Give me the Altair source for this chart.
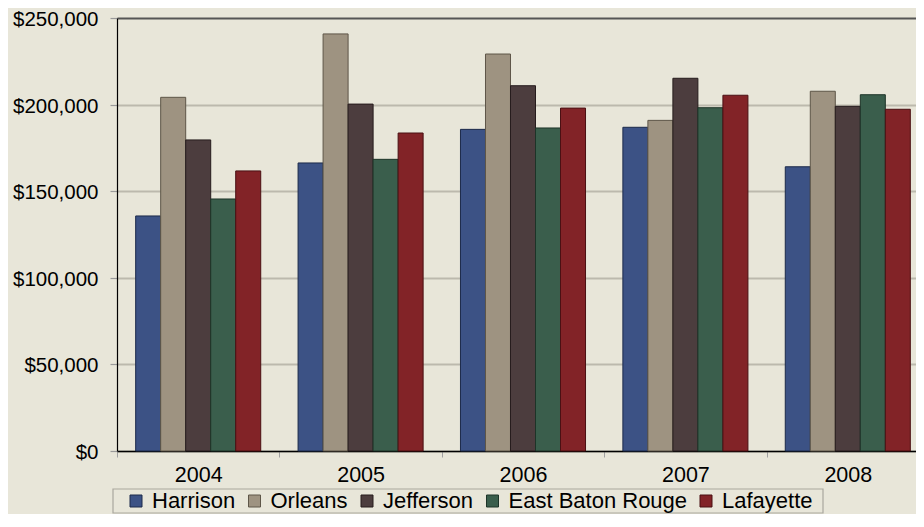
import altair as alt
import pandas as pd

years = ["2004", "2005", "2006", "2007", "2008"]
counties = ["Harrison", "Orleans", "Jefferson", "East Baton Rouge", "Lafayette"]
harrison = [135700, 166300, 185700, 186900, 164100]
orleans = [204200, 240800, 229200, 190900, 207700]
jefferson = [179600, 200300, 210900, 215200, 199000]
east_baton_rouge = [145500, 168400, 186500, 198200, 205700]
lafayette = [161700, 183600, 198000, 205400, 197300]

fills = ["#3c5285", "#9e9381", "#4c3d3e", "#3a5e4c", "#822327"]
strokes = ["#1c2a4a", "#5e5648", "#261c1d", "#1d3428", "#4a1013"]

series = [harrison, orleans, jefferson, east_baton_rouge, lafayette]
rows = []
for c, vals in zip(counties, series):
    for y, v in zip(years, vals):
        rows.append({"Year": y, "County": c, "Value": v})
df = pd.DataFrame(rows)

FONT = "Liberation Sans"
STEP = 812 / 5

bars = alt.Chart(df).mark_bar(strokeWidth=1).encode(
    x=alt.X("Year:N", sort=years,
            scale=alt.Scale(paddingInner=0.23, paddingOuter=0.115, range=[0, 812]),
            axis=alt.Axis(title=None, labelAngle=0,
                          tickOffset=-STEP / 2, labelOffset=STEP / 2,
                          domainColor="#000000", domainWidth=1.5,
                          tickColor="#a0a0a0", tickSize=6, tickWidth=1,
                          labelFontSize=21.5, labelPadding=7, grid=False)),
    xOffset=alt.XOffset("County:N", sort=counties, scale=alt.Scale(paddingInner=0, paddingOuter=0)),
    y=alt.Y("Value:Q",
            scale=alt.Scale(domain=[0, 250000], nice=False),
            axis=alt.Axis(title=None, values=[0, 50000, 100000, 150000, 200000, 250000],
                          format="$,.0f", domainColor="#000000", domainWidth=1.2,
                          tickColor="#9a9a9a", tickSize=7, tickWidth=1.2,
                          labelFontSize=20.5, labelPadding=12, labelOffset=1.5,
                          grid=True,
                          gridColor=alt.condition("datum.value === 250000",
                                                  alt.value("#555555"), alt.value("#bcb9ad")),
                          gridWidth=1.8)),
    color=alt.Color("County:N", sort=counties,
                    scale=alt.Scale(domain=counties, range=fills),
                    legend=alt.Legend(title=None, orient="none", direction="horizontal",
                                      legendX=8, legendY=472, symbolType="square",
                                      symbolSize=144, symbolStrokeColor="#2a2a2a",
                                      symbolStrokeWidth=1, labelFontSize=22,
                                      labelOffset=5, columnPadding=7.5,
                                      labelLimit=400, padding=0)),
    stroke=alt.Stroke("County:N", sort=counties,
                      scale=alt.Scale(domain=counties, range=strokes), legend=None),
)

box = alt.Chart(alt.Data(values=[{"k": 1}])).mark_rect(
    filled=False, stroke="#a9a79e", strokeWidth=1.2
).encode(
    x=alt.value(-4), x2=alt.value(706), y=alt.value(471), y2=alt.value(495)
)

chart = alt.layer(box, bars).properties(
    width=799, height=433,
    padding={"left": 109, "top": 10, "right": 0, "bottom": 63},
    autosize=alt.AutoSizeParams(type="none"),
    background="#e8e6d9",
).configure_view(stroke=None).configure(
    font=FONT
).configure_axis(labelFont=FONT, labelColor="#000000").configure_legend(
    labelFont=FONT, labelColor="#000000"
)

chart.save("out.html", embed_options={"renderer": "svg", "actions": False})
